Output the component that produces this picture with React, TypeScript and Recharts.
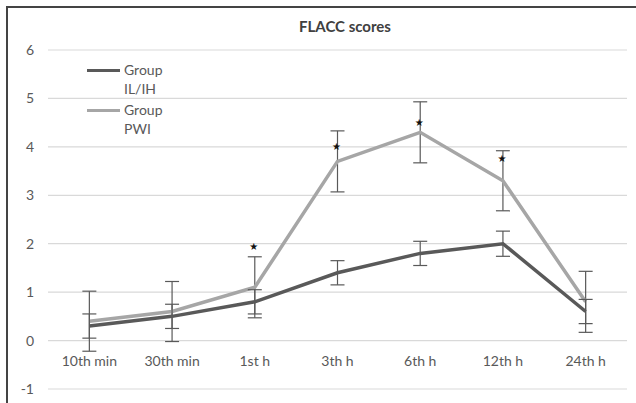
import { ComposedChart, Line, XAxis, YAxis, CartesianGrid, ErrorBar } from 'recharts'

const categories = ['10th min', '30th min', '1st h', '3th h', '6th h', '12th h', '24th h']
const ilih = [0.3, 0.5, 0.8, 1.4, 1.8, 2.0, 0.6]
const ilihErr = [0.25, 0.25, 0.25, 0.25, 0.25, 0.26, 0.25]
const pwi = [0.4, 0.6, 1.1, 3.7, 4.3, 3.3, 0.8]
const pwiErr = [0.62, 0.62, 0.63, 0.63, 0.63, 0.62, 0.63]
const stars: (number | null)[] = [null, null, 1.95, 4.02, 4.51, 3.78, null]
const yTicks = [-1, 0, 1, 2, 3, 4, 5, 6]

const seriesInfo = [
  { name: ['Group', 'IL/IH'], color: '#595959' },
  { name: ['Group', 'PWI'], color: '#a6a6a6' },
]

const font = 'Lato, "Open Sans", sans-serif'

const data = categories.map((c, i) => ({
  cat: c,
  ilih: ilih[i],
  ilihErr: ilihErr[i],
  pwi: pwi[i],
  pwiErr: pwiErr[i],
  star: stars[i],
}))

const XTick = (props: any) => {
  const { x, payload } = props
  return (
    <text x={x} y={366} textAnchor="middle" fill="#595959" fontSize={14} fontFamily={font}>
      {payload.value}
    </text>
  )
}

const YTick = (props: any) => {
  const { y, payload } = props
  return (
    <text x={34} y={y} dy={5} textAnchor="end" fill="#595959" fontSize={14} fontFamily={font}>
      {payload.value}
    </text>
  )
}

const StarDot = (props: any) => {
  const { cx, cy, payload } = props
  if (payload.star == null || cx == null || cy == null) return <g key={props.key} />
  return (
    <text key={props.key} x={cx - 1} y={cy} dy={4} textAnchor="middle" fontSize={10} fill="#111" fontFamily="DejaVu Sans">
      ★
    </text>
  )
}

const LegendBox = () => (
  <div style={{ position: 'absolute', left: 87, top: 60, fontFamily: font, fontSize: 14, color: '#595959', lineHeight: '19px' }}>
    {seriesInfo.map((s) => (
      <div key={s.name[1]} style={{ display: 'flex', alignItems: 'flex-start', marginBottom: 2 }}>
        <div style={{ width: 33, height: 3, background: s.color, marginTop: 9, marginRight: 4 }} />
        <div>
          <div>{s.name[0]}</div>
          <div>{s.name[1]}</div>
        </div>
      </div>
    ))}
  </div>
)

export default function App() {
  return (
    <div style={{ position: 'absolute', left: 0, top: 0, width: 636, height: 403, background: '#fff', overflow: 'hidden' }}>
      <div style={{ position: 'absolute', left: 6, top: 6, width: 700, height: 500, borderLeft: '2px solid #444', borderTop: '2px solid #444' }} />
      <div style={{ position: 'absolute', left: 245, top: 17, width: 200, textAlign: 'center', fontFamily: font, fontWeight: 700, fontSize: 15, color: '#404040' }}>
        FLACC scores
      </div>
      <div style={{ position: 'absolute', left: 0, top: 0 }}>
        <ComposedChart width={636} height={403} data={data} margin={{ top: 50, right: 9, left: 0, bottom: 0 }}>
          <CartesianGrid vertical={false} stroke="#d9d9d9" strokeWidth={1.2} />
          <XAxis dataKey="cat" scale="band" axisLine={false} tickLine={false} tick={<XTick />} height={14} interval={0} />
          <YAxis domain={[-1, 6]} ticks={yTicks} axisLine={false} tickLine={false} tick={<YTick />} width={48} interval={0} />
          <Line dataKey="pwi" stroke="#a6a6a6" strokeWidth={3.5} dot={false} isAnimationActive={false}>
            <ErrorBar dataKey="pwiErr" width={7} stroke="#595959" strokeWidth={1.2} direction="y" isAnimationActive={false} />
          </Line>
          <Line dataKey="ilih" stroke="#595959" strokeWidth={3.5} dot={false} isAnimationActive={false}>
            <ErrorBar dataKey="ilihErr" width={7} stroke="#595959" strokeWidth={1.2} direction="y" isAnimationActive={false} />
          </Line>
          <Line dataKey="star" stroke="none" dot={<StarDot />} activeDot={false} legendType="none" isAnimationActive={false} />
        </ComposedChart>
      </div>
      <LegendBox />
    </div>
  )
}
